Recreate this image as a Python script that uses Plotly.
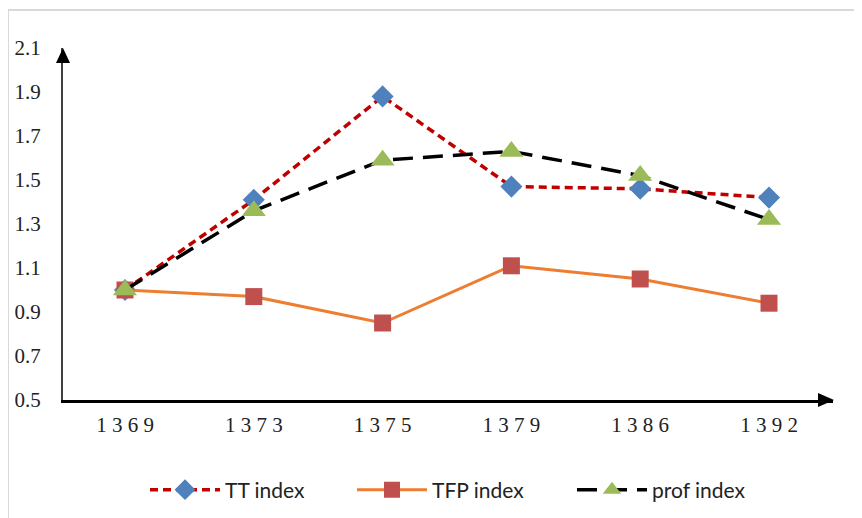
import plotly.graph_objects as go

years = ["1369", "1373", "1375", "1379", "1386", "1392"]
year_labels = ["1 3 6 9", "1 3 7 3", "1 3 7 5", "1 3 7 9", "1 3 8 6", "1 3 9 2"]
tt_index = [1.00, 1.41, 1.88, 1.47, 1.46, 1.42]
tfp_index = [1.00, 0.97, 0.85, 1.11, 1.05, 0.94]
prof_index = [1.00, 1.36, 1.59, 1.63, 1.52, 1.32]
y_ticks = [0.5, 0.7, 0.9, 1.1, 1.3, 1.5, 1.7, 1.9, 2.1]

# the page body adds an 8px offset; positions below are screen pixels
OFF = 8
W, H = 862, 518
L, R, T, B = 63 - OFF, W - (833 - OFF), 48 - OFF, H - (400 - OFF)
PW, PH = W - L - R, H - T - B


def px(x):
    return (x - OFF - L) / PW


def py(y):
    return (H - B - (y - OFF)) / PH


fig = go.Figure()
fig.add_trace(go.Scatter(
    x=years, y=tt_index, name="TT index", mode="lines+markers",
    line=dict(color="#C00000", width=3.5, dash="8px,5px"),
    marker=dict(symbol="diamond", size=17, color="#4F81BD"),
    legend="legend",
))
fig.add_trace(go.Scatter(
    x=years, y=tfp_index, name="TFP index", mode="lines+markers",
    line=dict(color="#ED7D31", width=3),
    marker=dict(symbol="square", size=17, color="#C0504D"),
    legend="legend2",
))
fig.add_trace(go.Scatter(
    x=years, y=prof_index, name="prof index", mode="lines+markers",
    line=dict(color="#000000", width=3.5, dash="20px,10px"),
    marker=dict(symbol="triangle-up", size=21, color="#9BBB59"),
    legend="legend3",
))

shapes = [
    # chart border (top and left)
    dict(type="line", xref="paper", yref="paper", x0=px(8), x1=px(870), y0=py(10), y1=py(10),
         line=dict(color="#D9D9D9", width=2)),
    dict(type="line", xref="paper", yref="paper", x0=px(8), x1=px(8), y0=py(10), y1=py(530),
         line=dict(color="#D9D9D9", width=2)),
    # y axis arrow head
    dict(type="path", xref="paper", yref="paper",
         path=f"M {px(63)} {py(48)} L {px(56)} {py(63)} L {px(70)} {py(63)} Z",
         fillcolor="black", line=dict(color="black", width=0)),
    # x axis arrow head
    dict(type="path", xref="paper", yref="paper",
         path=f"M {px(834)} {py(400)} L {px(818)} {py(393)} L {px(818)} {py(407)} Z",
         fillcolor="black", line=dict(color="black", width=0)),
]

leg_common = dict(
    orientation="h", yanchor="middle", xanchor="left",
    font=dict(family="Lato", size=21, color="#222222"),
    itemwidth=70, bgcolor="rgba(0,0,0,0)",
)

fig.update_layout(
    width=W, height=H,
    margin=dict(l=L, r=R, t=T, b=B, autoexpand=False),
    paper_bgcolor="white", plot_bgcolor="white",
    shapes=shapes,
    showlegend=True,
    legend=dict(x=px(145), y=py(490), **leg_common),
    legend2=dict(x=px(352), y=py(490), **leg_common),
    legend3=dict(x=px(572), y=py(490), **leg_common),
    xaxis=dict(
        type="category", categoryorder="array", categoryarray=years,
        tickmode="array", tickvals=years, ticktext=year_labels,
        range=[-(125 - 63) / 128.8, 5 + (833 - 769) / 128.8],
        showline=True, linecolor="black", linewidth=2.5,
        showgrid=False, zeroline=False, ticks="",
        tickfont=dict(family="Liberation Serif", size=21, color="#222222"),
        ticklabelstandoff=4,
    ),
    yaxis=dict(
        range=[0.5, 2.1], tickmode="array", tickvals=y_ticks,
        ticktext=[f"{v:.1f}" for v in y_ticks],
        showline=True, linecolor="#404040", linewidth=2,
        showgrid=False, zeroline=False, ticks="",
        tickfont=dict(family="Liberation Serif", size=21, color="#222222"),
        ticklabelstandoff=16,
    ),
)

fig.write_html("out.html")
